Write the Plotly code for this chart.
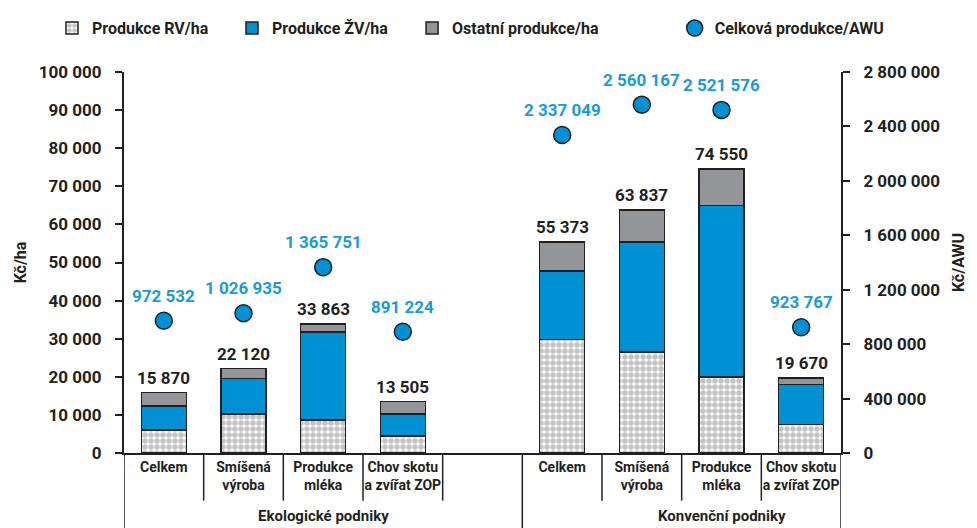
import plotly.graph_objects as go

# ---- data ----
group_names = ["Ekologické podniky", "Konvenční podniky"]
sub_labels = ["Celkem", "Smíšená<br>výroba", "Produkce<br>mléka", "Chov skotu<br>a zvířat ZOP"]
slot_pos = [0, 1, 2, 3, 5, 6, 7, 8]          # slot 4 is the empty gap between the groups
rv_ha = [6000, 10200, 8700, 4500, 29800, 26500, 19900, 7500]
zv_ha = [6300, 9300, 23100, 5700, 18000, 28900, 45000, 10500]
other_ha = [3570, 2620, 2063, 3305, 7573, 8437, 9650, 1670]
total_ha = [15870, 22120, 33863, 13505, 55373, 63837, 74550, 19670]
awu = [972532, 1026935, 1365751, 891224, 2337049, 2560167, 2521576, 923767]
left_ticks = list(range(0, 100001, 10000))
right_ticks = list(range(0, 2800001, 400000))

FONT = "Roboto, sans-serif"
INK = "#231f20"
BLUE = "#0090d4"
GRAY = "#939598"
BLUE_TXT = "#1a9bd7"

def fmt(v):
    return f"{v:,}".replace(",", " ")

def f(size, color=INK):
    return dict(family=FONT, size=size, color=color, weight=700)

fig = go.Figure()
bar_line = dict(color=INK, width=1.5)
fig.add_trace(go.Bar(
    x=slot_pos, y=rv_ha, name="Produkce RV/ha", width=0.565,
    marker=dict(color="white", line=bar_line,
                pattern=dict(shape=".", fgcolor="#888888", bgcolor="white", size=6, solidity=0.65)),
    legend="legend"))
fig.add_trace(go.Bar(
    x=slot_pos, y=zv_ha, name="Produkce ŽV/ha", width=0.565,
    marker=dict(color=BLUE, line=bar_line), legend="legend"))
fig.add_trace(go.Bar(
    x=slot_pos, y=other_ha, name="Ostatní produkce/ha", width=0.565,
    marker=dict(color=GRAY, line=bar_line), legend="legend3"))
fig.add_trace(go.Scatter(
    x=slot_pos, y=awu, name="Celková produkce/AWU", mode="markers", yaxis="y2",
    marker=dict(color=BLUE, size=17, line=dict(color=INK, width=1.5)),
    legend="legend2"))

annotations = []
for x, t in zip(slot_pos, total_ha):
    annotations.append(dict(x=x, y=t, xref="x", yref="y", text=fmt(t), showarrow=False,
                            yshift=15, font=f(17)))
for x, a in zip(slot_pos, awu):
    annotations.append(dict(x=x, y=a, xref="x", yref="y2", text=fmt(a), showarrow=False,
                            yshift=25, font=f(17, BLUE_TXT)))
for gx, g in zip([2, 7], group_names):
    annotations.append(dict(x=gx, y=-0.165, xref="x", yref="paper", yanchor="middle", text=g,
                            showarrow=False, font=f(15)))

shapes = []
for xb in [0.5, 1.5, 2.5, 3.5, 5.5, 6.5, 7.5]:
    shapes.append(dict(type="line", xref="x", yref="paper", x0=xb, x1=xb, y0=0, y1=-0.125,
                       line=dict(color=INK, width=1.5)))
for xb in [-0.5, 4.5, 8.5]:
    shapes.append(dict(type="line", xref="x", yref="paper", x0=xb, x1=xb, y0=0, y1=-0.2,
                       line=dict(color=INK, width=1.5)))

legend_common = dict(orientation="h", xref="container", yref="container", y=0.994,
                     xanchor="left", yanchor="top", font=f(16))

# page body has an 8px margin, so the figure is drawn 8px smaller and offset
fig.update_layout(
    width=969, height=520,
    margin=dict(l=109, r=129, t=64, b=75),
    barmode="stack",
    separators=", ",
    plot_bgcolor="white", paper_bgcolor="white",
    font=f(16),
    xaxis=dict(range=[-0.5, 8.5], tickvals=[0, 1, 2, 3, 5, 6, 7, 8], tickangle=0,
               ticktext=sub_labels + sub_labels, ticks="", showgrid=False, zeroline=False,
               showline=True, linecolor=INK, linewidth=2, tickfont=f(14)),
    yaxis=dict(range=[0, 100000], tickvals=left_ticks, tickformat=",d", ticks="outside",
               ticklen=7, tickwidth=1.5, tickcolor=INK, showline=True, linecolor=INK, linewidth=2,
               showgrid=False, zeroline=False, ticklabelstandoff=10,
               title=dict(text="Kč/ha", standoff=8, font=f(16)), tickfont=f(17)),
    yaxis2=dict(range=[0, 2800000], tickvals=right_ticks, tickformat=",d", overlaying="y", side="right",
                ticks="outside", ticklen=7, tickwidth=1.5, tickcolor=INK, showline=True, linecolor=INK,
                linewidth=2, showgrid=False, zeroline=False, ticklabelstandoff=10,
                title=dict(text="Kč/AWU", standoff=14, font=f(16)), tickfont=f(17)),
    legend=dict(**legend_common, x=0.0454, traceorder="normal", entrywidth=135,
                entrywidthmode="pixels"),
    legend3=dict(**legend_common, x=0.417),
    legend2=dict(**legend_common, x=0.688),
    annotations=annotations,
    shapes=shapes,
    bargap=0.4,
)

fig.write_html("out.html")
